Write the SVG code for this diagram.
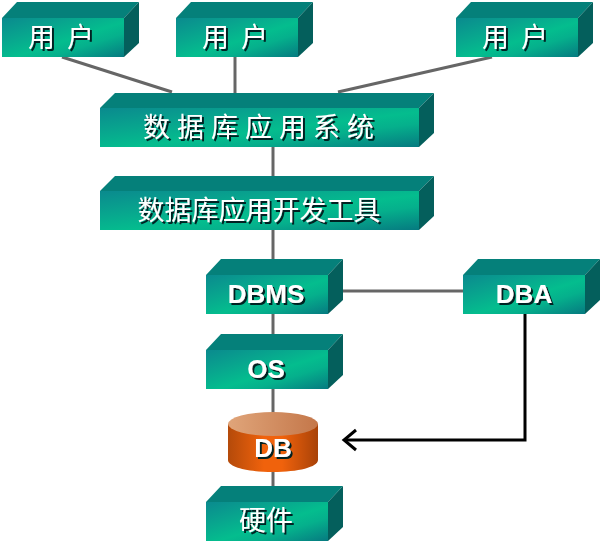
<svg xmlns="http://www.w3.org/2000/svg" width="602" height="553" viewBox="0 0 602 553">
<style>
.top{fill:#05807a}
.side{fill:#045f5c}
.front{fill:url(#fg)}
.lbl{font-family:"Noto Sans CJK SC","Liberation Sans",sans-serif;font-size:27px;fill:#fff;text-anchor:middle;filter:url(#sh)}
.en{font-family:"Liberation Sans",Arial,sans-serif;font-weight:bold;font-size:26px;fill:#fff;text-anchor:middle;filter:url(#sh)}
.c{stroke:#666;stroke-width:3;fill:none}
.a{stroke:#000;stroke-width:3;fill:none}
</style>
<defs>
<linearGradient id="fg" x1="0" y1="0" x2="1" y2="1">
<stop offset="0" stop-color="#0a8a8e"/>
<stop offset="0.3" stop-color="#08a58e"/>
<stop offset="0.55" stop-color="#04bd8e"/>
<stop offset="0.7" stop-color="#05b08c"/>
<stop offset="1" stop-color="#067a80"/>
</linearGradient>
<linearGradient id="dbside" x1="0" y1="0" x2="1" y2="0">
<stop offset="0" stop-color="#b44a0a"/>
<stop offset="0.4" stop-color="#f0620c"/>
<stop offset="0.6" stop-color="#f0620c"/>
<stop offset="1" stop-color="#a84208"/>
</linearGradient>
<linearGradient id="dbtop" x1="0" y1="0" x2="1" y2="0">
<stop offset="0" stop-color="#e0a57a"/>
<stop offset="1" stop-color="#c4774a"/>
</linearGradient>
<filter id="sh" x="-10%" y="-10%" width="125%" height="125%">
<feDropShadow dx="2" dy="2" stdDeviation="0.6" flood-color="#022" flood-opacity="1"/>
</filter>
<marker id="open" markerUnits="userSpaceOnUse" markerWidth="20" markerHeight="24" refX="16" refY="12" orient="auto" viewBox="0 0 20 24">
<path d="M4 2 L16 12 L4 22" fill="none" stroke="#000" stroke-width="3"/>
</marker>
<g id="box122"><path class="top" d="M2 18 L17 2 H139 L124 18Z"/><path class="side" d="M124 18 L139 2 V43 L124 57Z"/><rect class="front" x="2" y="18" width="122" height="39"/></g>
<g id="box319"><path class="top" d="M100 108 L115 93 H434 L419 108Z"/><path class="side" d="M419 108 L434 93 V133 L419 147Z"/><rect class="front" x="100" y="108" width="319" height="39"/></g>
</defs>
<g id="connectors">
<path class="c" d="M62 57 L172 92"/>
<path class="c" d="M235 57 V93"/>
<path class="c" d="M492 57 L338 92"/>
<path class="c" d="M273 147 V176"/>
<path class="c" d="M273 230 V259"/>
<path class="c" d="M273 313 V334"/>
<path class="c" d="M273 388 V415"/>
<path class="c" d="M273 470 V486"/>
<path class="c" d="M343 291 H463"/>
<path class="a" d="M525 313 V440 H344" marker-end="url(#open)"/>
</g>
<g id="user1"><use href="#box122"/><text class="lbl" x="61" y="47" xml:space="preserve">用  户</text></g>
<g id="user2"><use href="#box122" x="174"/><text class="lbl" x="235" y="47" xml:space="preserve">用  户</text></g>
<g id="user3"><use href="#box122" x="454"/><text class="lbl" x="515" y="47" xml:space="preserve">用  户</text></g>
<g id="app"><use href="#box319"/><text class="lbl" x="262" y="137" font-size="26" letter-spacing="7">数据库应用系统</text></g>
<g id="tools"><use href="#box319" y="83"/><text class="lbl" x="259" y="220">数据库应用开发工具</text></g>
<g id="dbms"><use href="#box122" x="204" y="257"/><text class="en" x="266" y="303">DBMS</text></g>
<g id="dba"><use href="#box122" x="461" y="257"/><text class="en" x="524" y="303">DBA</text></g>
<g id="os"><use href="#box122" x="204" y="332"/><text class="en" x="266" y="378">OS</text></g>
<g id="db">
<path fill="url(#dbside)" d="M228 424 V460 C228 467 248 472 273 472 C298 472 318 467 318 460 V424Z"/>
<ellipse cx="273" cy="424" rx="45" ry="12" fill="url(#dbtop)"/>
<text class="en" x="273" y="457">DB</text>
</g>
<g id="hardware"><use href="#box122" x="204" y="484"/><text class="lbl" x="266" y="530">硬件</text></g>
</svg>
